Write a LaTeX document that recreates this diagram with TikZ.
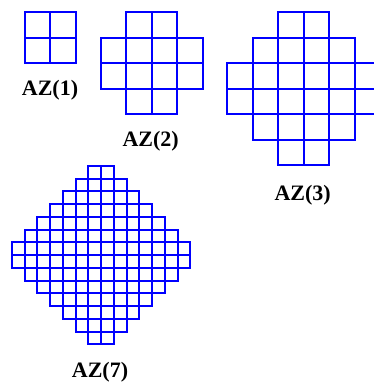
\documentclass[tikz,border=0pt]{standalone}
\usepackage{fontspec}
\setmainfont{Liberation Serif}
\definecolor{azblue}{RGB}{0,0,255}
\tikzset{
  cell/.style={color=azblue, line width=1.6pt, line cap=rect},
  lbl/.style={font=\fontsize{22}{26}\selectfont\bfseries, inner sep=0pt}
}
% #1 = order, #2,#3 = centre (px), #4 = cell size (px); lines snapped to pixels
\newcommand\aztecdiamond[4]{%
  \pgfmathtruncatemacro\aztN{2*#1-1}%
  \pgfmathtruncatemacro\aztM{2*#1}%
  \foreach \r in {0,...,\aztM}{%
    \pgfmathtruncatemacro\aztH{min(\r+1,\aztM-\r+1,#1)}%
    \pgfmathsetmacro\aztY{floor(#3+(\r-#1)*#4)+0.8}%
    \pgfmathsetmacro\aztXa{floor(#2-\aztH*#4)+0.8}%
    \pgfmathsetmacro\aztXb{floor(#2+\aztH*#4)+0.8}%
    \draw[cell] (\aztXa,\aztY) -- (\aztXb,\aztY);
  }%
  \foreach \i in {0,...,\aztN}{%
    \pgfmathtruncatemacro\aztK{min(\i,\aztN-\i)+1}%
    \pgfmathsetmacro\aztYa{floor(#3+(\i-#1)*#4)+0.8}%
    \pgfmathsetmacro\aztYb{floor(#3+(\i-#1+1)*#4)+0.8}%
    \foreach \j in {-\aztK,...,\aztK}{%
      \pgfmathsetmacro\aztX{floor(#2+\j*#4)+0.8}%
      \draw[cell] (\aztX,\aztYa) -- (\aztX,\aztYb);
    }}}
\begin{document}
\begin{tikzpicture}[x=1pt,y=-1pt]
\fill[white] (0,0) rectangle (374,385);
\useasboundingbox (0,0) rectangle (374,385);
\clip (0,0) rectangle (374,385);
\aztecdiamond{1}{49.7}{37.2}{25.5}
\aztecdiamond{2}{151.2}{62.85}{25.5}
\aztecdiamond{3}{303.3}{88.3}{25.5}
\aztecdiamond{7}{100.5}{254.5}{12.75}
\node[lbl] (l1) at (50,90) {AZ(1)};
\node[lbl] (l2) at (150.7,141.7) {AZ(2)};
\node[lbl] (l3) at (302.7,195) {AZ(3)};
\node[lbl] (l7) at (100,372.3) {AZ(7)};
\end{tikzpicture}
\end{document}
